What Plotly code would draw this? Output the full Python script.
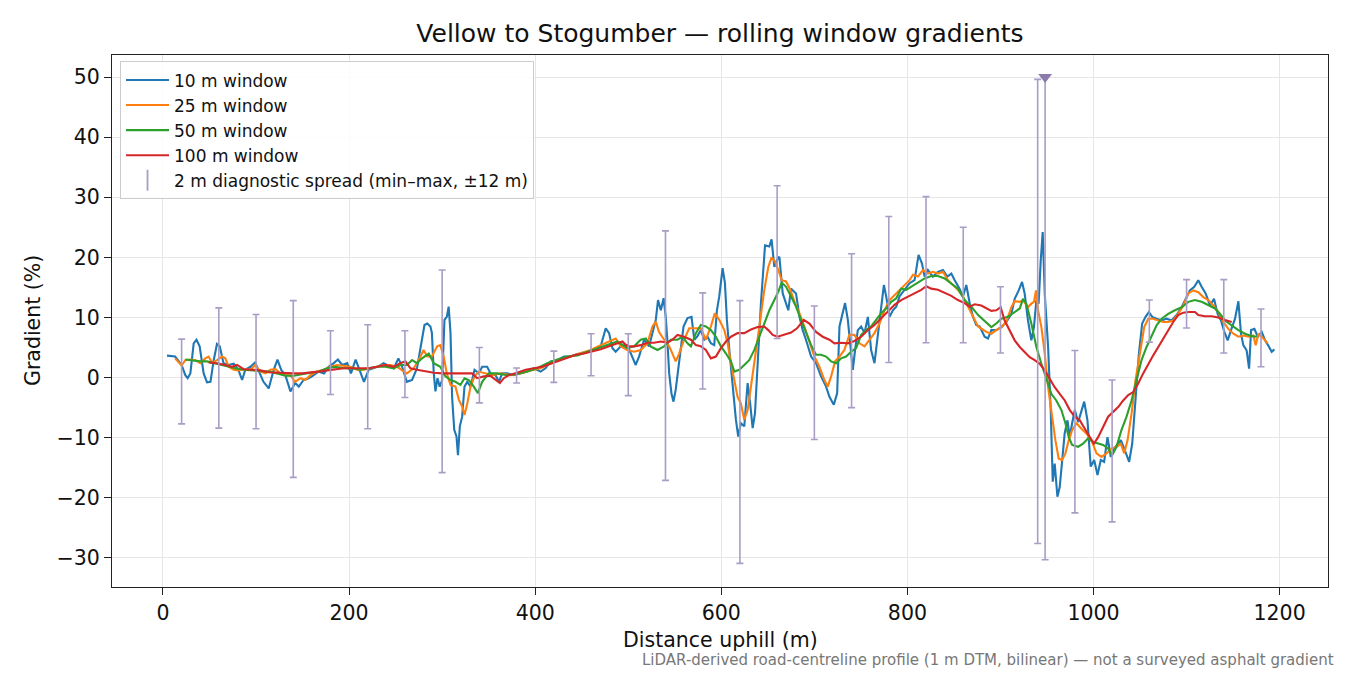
import plotly.graph_objects as go

# ---------------- data ----------------
X10 = [4.3,13,20,24,26.5,29.4,33,36,39.4,43.7,47.3,51,54.5,58,61,65,70.6,76,81,85,88.5,94,99,103,108,113.6,119,123,127,131.5,
       137,142,146,151,156.6,162,167,173,178,183.5,188,192.5,198,202,207,210,216,221,226.5,232,237,242.6,248,253,257,
       262,267.7,273,277,281,284,287.4,289,291,292.8,295,297.4,300,302.5,305,307,309,310.7,313,315.4,317,319,321.5,324,327,
       330.5,334.8,339.4,343,348.4,352,357.4,361,364.5,370,377,384,391.4,398.6,405.8,411,416.6,423.7,431,438,445,452.4,461.4,
       470.4,473.3,475.8,479.4,483,486.5,492,499,504.5,508,511.6,517,522.4,526,529.6,532,535,538,540.3,542,544,546.4,548.6,
       551,554.7,559.4,563.7,568,571,574.4,
       578,581.7,585.2,588.8,592.4,595.3,597.8,601.4,603.9,606,608.6,612.2,615.7,618.2,621,624.7,628.3,631,633.7,636.2,639,
       642.6,647,651.6,654,657,659.9,662.4,666,669.6,672,675,680.3,684,687.5,691,696.5,701.8,707.2,712.6,716.2,720.9,724.5,
       727,730.6,733,736,738.8,741.3,743.8,746.7,750.3,753.9,757.5,761,764.6,768.2,771.8,774.7,777.2,780.8,784.4,788,791.5,
       797,802.3,807.7,812,815.6,818.5,822,827.4,832.8,838.2,842.9,847.2,850.8,856,859.7,863.3,866.9,870.5,874,877.7,
       883,886.6,890.2,895.5,901,906.3,911.7,915.3,919.6,923.2,926,929.6,933.2,936,938.6,941,943.3,945.4,947.6,951.2,954,
       956.2,958.3,961.2,963.7,966.2,969,972,974.5,977,979.9,983.5,987,990,993.5,997,1000.7,1004.3,1007.8,1011.4,1015,
       1018.6,1022.2,1025.8,1029.4,1033.7,1038.3,1041.6,1045.2,1048.8,1052.3,1055.9,1059.5,1063.1,1067.8,1073.2,1078.5,
       1083.9,1089.3,1094.7,1099,1103.6,1108.3,1112.6,1116.2,1120.5,1125.2,1129.5,1133.4,1137,1140.6,1144.2,1147.8,1152.1,
       1155.7,1158.5,1161,1164.6,1167.2,1169.3,1172.9,1176.5,1180.8,1184.4,1188.7,1191.5,1194.4]
Y10 = [3.65,3.5,2.1,0.4,-0.1,0.7,5.7,6.3,5.2,0.7,-0.8,-0.7,2.9,5.6,5.2,2.4,2.1,2.3,1.3,-0.4,1.3,1.8,2.5,1.2,-0.7,-1.8,1.3,3.0,1.3,0.4,
       -2.3,-0.9,-1.5,-0.4,-0.1,0.4,1.0,0.7,1.8,2.4,3.0,2.1,2.4,0.7,3.0,1.8,-0.7,1.3,1.55,1.9,2.4,1.9,1.55,3.2,1.8,
       -0.7,-0.4,1.55,5.2,8.75,9.0,8.5,7.4,0.7,-2.3,-0.1,-1.5,-0.4,9.6,10.1,11.8,7.4,-3.2,-8.7,-9.8,-12.9,-8.1,-6.5,-1.5,-0.7,
       -1.5,1.3,0.7,1.8,1.8,0.7,0.4,-0.7,0.7,0.7,0.4,0.7,1.0,1.55,1.0,1.55,2.7,2.9,3.5,3.5,3.9,4.15,4.6,
       5.2,7.1,8.2,7.4,4.9,4.3,5.2,5.4,3.5,2.1,3.5,6.3,5.2,7.4,9.6,12.9,11.2,13.2,10.1,6.3,0.7,-2.6,-4.0,
       -2.0,2.9,8.5,9.9,10.1,6.3,6.9,
       7.9,6.3,6.8,5.7,5.4,11.2,13.5,18.2,15.7,9.6,4.6,-2.0,-7.0,-9.8,-7.6,-8.1,-0.9,-4.3,-8.4,-5.9,2.4,
       12.4,22.0,21.8,23.0,18.4,19.6,20.1,14.0,12.4,11.2,14.8,14.0,10.1,7.9,6.3,3.5,2.4,0.2,-1.5,-3.2,-4.5,-2.6,
       8.5,11.2,12.4,9.6,5.2,1.3,4.6,7.9,8.5,7.4,10.1,4.6,2.4,7.4,12.4,15.4,13.5,10.1,11.2,11.8,13.5,
       14.6,15.7,16.2,20.4,19.0,16.8,17.9,16.8,17.6,17.9,16.8,17.3,16.2,14.8,13.5,15.4,12.4,10.1,8.75,8.5,
       6.8,6.5,7.9,7.9,8.4,9.25,10.6,13.1,14.5,15.9,14.0,9.5,6.2,8.4,12.9,12.3,19.5,24.2,14.0,5.1,-5.4,
       -17.3,-14.3,-19.8,-18.2,-13.7,-9.3,-7.1,-9.9,-7.6,-5.4,-7.4,-5.4,-4.0,-7.1,-14.8,-13.7,-16.2,-13.7,-14.0,-9.9,
       -13.2,-11.8,-11.0,-10.4,-12.1,-14.0,-11.0,-2.7,4.0,9.0,10.1,10.9,10.1,9.8,9.5,9.8,
       9.5,10.4,11.7,13.1,14.5,15.1,16.2,15.1,14.0,12.0,13.1,10.6,9.5,7.6,6.2,7.9,9.8,
       12.7,7.3,5.4,4.5,1.5,7.9,8.1,6.8,7.6,6.2,5.1,4.3,4.7]

X25 = [13,17,20,24,29.4,35,40,45.5,49,52.7,58,63.4,67,70.6,76,81,86.7,94,99,104.7,110,115.4,120.8,126,131.5,137,142,147.7,
       153,158.4,165.6,173,180,187,194,201.4,208.6,216,223,230,237,244.4,251.6,
       262,269.5,274.8,280,284,289,294.6,298,301.7,305,309,314.3,318,321.5,324,327,330.5,334.8,339.4,346.6,353.8,362.7,373.5,
       384,395,405.8,416.6,427.3,438,449,459.6,470.4,479.4,486.5,492,499,506.3,513.4,520.6,526,529.6,533,538.5,544,547.5,
       551,554.7,560,565.5,571,
       578,583.4,588.8,593,597.8,603.2,606.8,610.4,614,617.5,621,624.7,628.3,632,635.5,640.9,646.2,650.5,654,657.7,661.3,
       664.9,669.6,674.2,679.2,684,689.3,694.7,700,705.4,710.8,714.4,718,722.3,727,732.3,737.7,743.1,748.5,753.9,759.3,
       764.6,770,775.4,780.8,786,791.5,797,802.3,806,811.3,816.7,822,827.4,832.8,838.2,843.6,849,854.3,859.7,865,870.5,875.9,
       884.8,890.2,895.5,901,906.3,911.7,915.3,920.7,924.2,929.6,933.2,936,938.2,940.4,944,947.6,951.2,954.7,959,962.6,
       966.2,969.8,973.4,977,981.7,987,992.4,997.8,1003.2,1008.6,1014,1019.3,1024.7,1029.4,1033,1036.6,1040.9,1045.2,
       1049.8,1054.5,1058.8,1064.2,1069.6,1075,1080.3,1085.7,1091,1096.5,1101.9,1107.2,1112.6,1118,1123.4,1128.8,1134.1,
       1139.5,1144.9,1150.3,1155.7,1161,1166.4,1171.8,1174.3,1177.2,1182.6,1187.2]
Y25 = [3.2,2.4,2.0,2.9,3.0,2.9,2.4,3.2,3.5,2.5,2.9,3.5,3.2,1.8,1.3,1.2,1.4,1.3,2.1,1.0,0.7,1.3,1.4,0.7,0.4,0.4,-0.7,-0.1,
       -0.4,0.4,1.0,1.3,1.8,2.1,1.9,1.8,1.3,1.3,1.55,1.8,2.1,2.1,1.8,
       0.7,1.55,2.9,4.6,3.5,3.5,5.2,5.4,3.5,0.7,-1.2,-1.5,-3.7,-4.8,-6.2,-4.3,-1.5,0.2,1.0,0.7,0.4,0.7,0.4,
       0.7,1.2,1.55,2.4,3.0,3.5,4.0,4.6,5.4,6.0,6.5,5.2,4.6,4.3,4.6,5.7,8.5,9.3,7.6,6.3,5.2,4.0,
       2.7,4.0,6.3,8.2,8.2,
       8.2,6.3,8.5,10.7,9.6,7.9,5.7,2.4,-0.4,-3.2,-4.3,-7.0,-5.4,-1.5,2.4,8.5,14.6,18.4,20.0,19.3,17.9,
       16.2,16.0,14.6,12.4,10.7,8.5,6.0,3.5,1.8,-0.4,-1.5,0.2,2.7,3.5,4.6,7.1,7.1,5.7,5.2,6.3,
       7.4,9.0,11.2,12.9,13.7,14.6,15.4,16.2,17.1,16.8,17.9,17.3,17.6,17.3,17.6,16.2,15.4,14.6,13.5,11.8,10.1,8.5,
       7.6,7.3,7.9,8.4,9.25,11.7,12.7,12.6,12.9,11.7,12.3,12.6,14.5,11.2,8.4,4.0,-1.6,-6.0,-10.4,-13.5,
       -13.7,-12.6,-10.4,-8.75,-7.6,-8.5,-9.3,-10.4,-12.6,-13.2,-12.6,-11.8,-11.5,-11.0,-12.6,-10.4,-6.0,-0.4,
       4.0,8.4,9.8,9.8,9.5,9.25,9.25,9.5,10.6,12.0,14.0,14.5,14.2,13.4,12.9,12.0,10.9,
       9.25,8.1,7.3,6.8,7.0,6.8,7.0,5.4,7.3,6.5,5.7]

X50 = [24,33,40,47.3,54.5,61.6,68.8,77.8,86.7,95.7,104.7,113.6,122.6,131.5,140.5,149.5,158.4,167.4,176.3,185.3,194.3,
       203.2,212.2,221.1,230,239,248,
       255,262,267.7,273,278.4,285.6,291,298,303.5,309,314.3,319.7,324,328.7,334,338.4,343,350,359,370,380.7,391.4,402,413,
       423.7,434.5,445.3,456,466.8,477.6,488.3,499,506.3,513.4,518.8,524,531.4,538.5,545.7,552.9,558.3,563.7,
       567.3,572.7,578,583.4,588.8,594.2,599.6,605,610.4,614,619.3,624.7,630,635.5,640.9,646.2,651.6,657,661.3,664.9,669.6,
       675,680.3,685.7,691,696.5,701.8,707.2,712.6,718,723.4,728.8,734.1,739.5,744.9,750.3,755.7,761,766.4,771.8,777.2,
       782.6,788,793.3,798.7,804,811.3,818.5,825.6,832.8,840,847.2,854.3,861.5,868.7,876,
       884.8,890.2,895.5,901,908,915.3,920.7,924.2,927.8,933.2,938.6,944,949.4,954.7,960,965.5,969.8,973.4,977,983.5,988.8,
       994.2,999.6,1005,1010.4,1015.7,1020,1024.7,1030,1035.5,1040.9,1046.2,1051.6,1057,1062.4,1067.8,1073.2,1080.3,
       1087.5,1094.7,1101.9,1109,1116.2,1123.4,1130.6,1136,1141.3,1148.5,1155.7,1162.9,1170,1175.4]
Y50 = [3.0,2.8,2.7,2.7,2.4,2.1,1.8,1.55,1.3,1.2,1.0,1.0,0.7,0.3,0.3,0.6,0.8,1.0,1.55,1.8,1.55,
       1.55,1.3,1.55,1.8,1.8,1.55,
       2.1,2.1,2.9,2.4,3.2,4.0,2.4,1.8,0.2,-0.4,-0.7,-1.2,-0.1,-0.4,-1.5,-2.6,-0.7,0.7,0.7,0.4,0.6,1.0,1.55,2.4,
       3.0,3.5,3.7,4.3,4.9,5.4,6.0,4.9,5.2,6.3,6.5,5.2,4.6,5.2,6.3,6.3,6.8,5.7,
       5.2,7.4,8.75,8.5,7.9,6.8,5.2,4.0,2.7,1.0,1.3,2.1,2.9,4.6,6.8,9.3,11.2,12.9,14.3,15.8,15.1,
       13.5,11.8,9.6,7.4,5.4,3.8,3.8,3.5,2.7,2.4,3.2,3.5,4.3,4.9,7.1,7.9,8.5,9.6,10.7,11.5,
       12.6,13.2,14.8,14.6,15.1,15.7,16.5,16.9,16.9,16.5,15.7,14.8,12.9,11.8,10.4,
       9.25,8.4,9.0,9.8,10.1,10.9,11.5,13.1,12.3,9.0,5.1,2.3,-0.2,-2.7,-3.8,-5.4,-7.6,-9.9,-11.2,-11.5,-11.0,
       -10.1,-10.7,-11.0,-11.2,-11.8,-12.9,-11.5,-8.75,-6.5,-3.8,-0.4,2.9,5.1,7.0,8.7,9.8,10.6,
       11.2,11.7,12.6,12.9,12.6,12.0,11.5,10.6,9.5,8.7,7.9,7.3,6.9,6.8]

X100 = [49,58,67,74,79.6,86.7,95.7,104.7,113.6,122.6,131.5,140.5,149.5,158.4,167.4,176.3,185.3,194.3,203.2,212.2,221.1,
        230,239,248,
        255,260.5,265.9,273,282,291,300,309,318,327,332.2,337.6,344.8,352,357.4,362,366.3,371.7,380.7,389.7,398.6,407.6,
        416.6,425.5,434.5,443.5,452.4,461.4,470.4,479.4,488.3,493.7,499,506.3,513.4,520.6,527.8,535,542.1,547.5,552.9,560,
        567.3,572.7,578,583.4,588.8,594.2,599.6,605,610.4,617.5,624.7,631.9,639,646.2,650.5,655.2,660.6,667.8,675,681.4,
        688.6,694.7,701.8,709,716.2,721.6,728.8,736,743.1,750.3,757.5,764.6,771.8,779,786.2,793.3,800.5,807.7,814.9,820.3,
        825.6,832.8,840,847.2,854.3,861.5,866.9,872.3,
        879.4,884.8,890.2,895.5,900.2,904.5,909.9,915.3,920.7,926,931.4,936.8,942.2,947.6,953,958.3,963.7,969.1,974.5,979.9,
        985.2,990.6,996,1000.3,1005,1010.4,1015.7,1021.1,1026.5,1031.9,1037.3,1042.7,1048,1053.4,1058.8,1064.2,1069.6,1075,
        1080.3,1085.7,1091,1096.5,1101.9,1109,1112.6,1119.8,1127,1134.1,1141.3,1148.5]
Y100 = [2.5,2.4,2.1,1.8,2.1,1.4,1.3,1.2,0.9,0.8,0.7,0.7,0.7,0.8,1.0,1.2,1.4,1.55,1.55,1.55,1.55,
        1.8,2.1,1.8,
        2.4,2.7,1.55,1.3,1.0,0.8,0.7,0.7,0.8,0.8,0.7,-0.1,0.2,0.3,-0.4,-0.9,-0.1,0.4,0.8,1.3,1.55,1.8,
        2.3,2.8,3.3,3.8,4.0,4.3,4.7,5.2,5.7,6.0,5.2,5.2,5.4,5.8,5.8,6.0,5.8,6.3,7.1,6.8,
        6.3,5.4,5.2,4.6,3.2,3.5,4.9,6.0,6.8,7.4,7.4,8.0,8.4,8.5,7.9,7.1,6.8,7.1,7.5,8.2,
        9.6,9.0,7.6,6.8,6.3,5.7,5.8,5.7,6.1,6.8,7.9,8.75,9.9,11.0,12.1,12.9,13.5,14.0,14.6,15.2,
        14.8,14.6,14.1,13.6,12.9,12.4,11.8,12.2,
        12.0,11.5,11.1,11.2,11.7,9.5,7.9,6.2,5.1,4.3,3.4,2.9,2.3,1.2,-0.2,-1.6,-2.7,-3.8,-5.4,-6.5,
        -7.1,-8.5,-9.9,-11.0,-9.9,-8.2,-6.5,-5.7,-4.9,-3.8,-2.9,-2.4,-1.0,0.7,2.3,3.7,5.1,6.5,
        7.9,9.25,10.4,10.8,10.9,10.9,10.4,10.2,10.2,10.0,9.6,9.25]

# 2 m diagnostic spread (min-max within +/-12 m), every 40 m
BAR_X = [20,60,100,140,180,220,260,300,340,380,420,460,500,540,580,620,660,700,740,780,820,860,900,940,980,1020,1060,1100,1140,1180]
BAR_LO = [-7.7,-8.4,-8.5,-16.6,-2.8,-8.5,-3.3,-15.8,-4.2,-0.9,-0.8,0.3,-3.0,-17.1,-1.9,-30.9,6.5,-10.3,-5.0,2.5,
          5.8,5.8,4.1,-27.6,-22.5,-24.0,5.9,8.25,4.1,1.8]
BAR_HI = [6.4,11.6,10.5,12.8,7.8,8.8,7.8,17.9,5.0,1.6,4.4,7.3,7.3,24.4,14.1,12.8,31.9,11.9,20.6,26.8,
          30.1,25.0,15.1,49.6,4.5,-0.4,12.9,16.3,16.3,11.4]
# extra bar whose maximum is beyond the clip value (marked with a triangle)
CLIP_X = [948]
CLIP_LO = [-30.3]
CLIP_VAL = [50]

SERIES = [("10 m window", X10, Y10, "#1f77b4"),
          ("25 m window", X25, Y25, "#ff7f0e"),
          ("50 m window", X50, Y50, "#2ca02c"),
          ("100 m window", X100, Y100, "#d62728")]

TITLE = "Vellow to Stogumber — rolling window gradients"
XLABEL = "Distance uphill (m)"
YLABEL = "Gradient (%)"
BAR_LABEL = "2 m diagnostic spread (min–max, ±12 m)"
CAPTION = "LiDAR-derived road-centreline profile (1 m DTM, bilinear) — not a surveyed asphalt gradient"

BAR_COLOR = "#aa9dc5"
CLIP_COLOR = "#8a7bab"
FONT = "DejaVu Sans"

# page is offset by the 8 px body margin of the html page
W, H = 1342, 667

# ---------------- figure ----------------
fig = go.Figure()

for name, xs, ys, col in SERIES:
    fig.add_trace(go.Scatter(x=xs, y=ys, mode="lines", name=name,
                             line=dict(color=col, width=2.1)))

fig.add_trace(go.Scatter(
    x=BAR_X, y=BAR_LO, mode="markers", showlegend=False, hoverinfo="skip",
    marker=dict(color="rgba(0,0,0,0)", size=1),
    error_y=dict(type="data", symmetric=False,
                 array=[h - l for h, l in zip(BAR_HI, BAR_LO)],
                 arrayminus=[0] * len(BAR_LO),
                 color=BAR_COLOR, thickness=1.6, width=3.5)))

fig.add_trace(go.Scatter(
    x=CLIP_X, y=CLIP_VAL, mode="markers", showlegend=False,
    marker=dict(symbol="triangle-down", color=CLIP_COLOR, size=12),
    error_y=dict(type="data", symmetric=False,
                 array=[0] * len(CLIP_X),
                 arrayminus=[v - l for v, l in zip(CLIP_VAL, CLIP_LO)],
                 color=BAR_COLOR, thickness=1.6, width=3.5)))

# legend-only entry for the error bars
fig.add_trace(go.Scatter(
    x=[None], y=[None], mode="markers", name=BAR_LABEL,
    marker=dict(symbol="line-ns-open", size=15, color=BAR_COLOR,
                line=dict(color=BAR_COLOR, width=1.8))))

axis_common = dict(showline=True, linecolor="#222222", linewidth=1.3, mirror=True,
                   ticks="outside", ticklen=7, tickwidth=1.3, tickcolor="#222222",
                   showgrid=True, gridcolor="#e6e6e6", gridwidth=1.2, zeroline=False,
                   tickfont=dict(family=FONT, size=20.5, color="#111111"))

fig.update_xaxes(range=[-54.8, 1252], tickmode="array",
                 tickvals=[0, 200, 400, 600, 800, 1000, 1200], **axis_common)
fig.update_yaxes(range=[-34.83, 53.66], tickmode="array",
                 tickvals=[-30, -20, -10, 0, 10, 20, 30, 40, 50], **axis_common)

fig.update_layout(
    width=W, height=H,
    margin=dict(l=104, r=22, t=47, b=88),
    paper_bgcolor="white", plot_bgcolor="white",
    font=dict(family=FONT, color="#111111"),
    title=dict(text=TITLE, x=0.5, xanchor="center", xref="paper",
               y=1 - 25 / H, yanchor="middle",
               font=dict(family=FONT, size=25, color="#111111")),
    showlegend=True,
    legend=dict(x=0.0066, y=0.988, xanchor="left", yanchor="top",
                bgcolor="rgba(255,255,255,0.85)", bordercolor="#cccccc", borderwidth=1,
                font=dict(family=FONT, size=17, color="#111111"),
                tracegroupgap=0, itemwidth=43),
    annotations=[
        dict(text=XLABEL, xref="paper", yref="paper", x=0.5, y=(587 - 640) / 532,
             xanchor="center", yanchor="middle", showarrow=False,
             font=dict(family=FONT, size=20.5, color="#111111")),
        dict(text=YLABEL, xref="paper", yref="paper", x=(33 - 112) / 1216, y=0.5,
             xanchor="center", yanchor="middle", showarrow=False, textangle=-90,
             font=dict(family=FONT, size=20.5, color="#111111")),
        dict(text=CAPTION, xref="paper", yref="paper", x=(1336 - 112) / 1216,
             y=(587 - 660) / 532, xanchor="right", yanchor="middle", showarrow=False,
             font=dict(family=FONT, size=15, color="#777777")),
    ],
)

fig.write_html("out.html")
